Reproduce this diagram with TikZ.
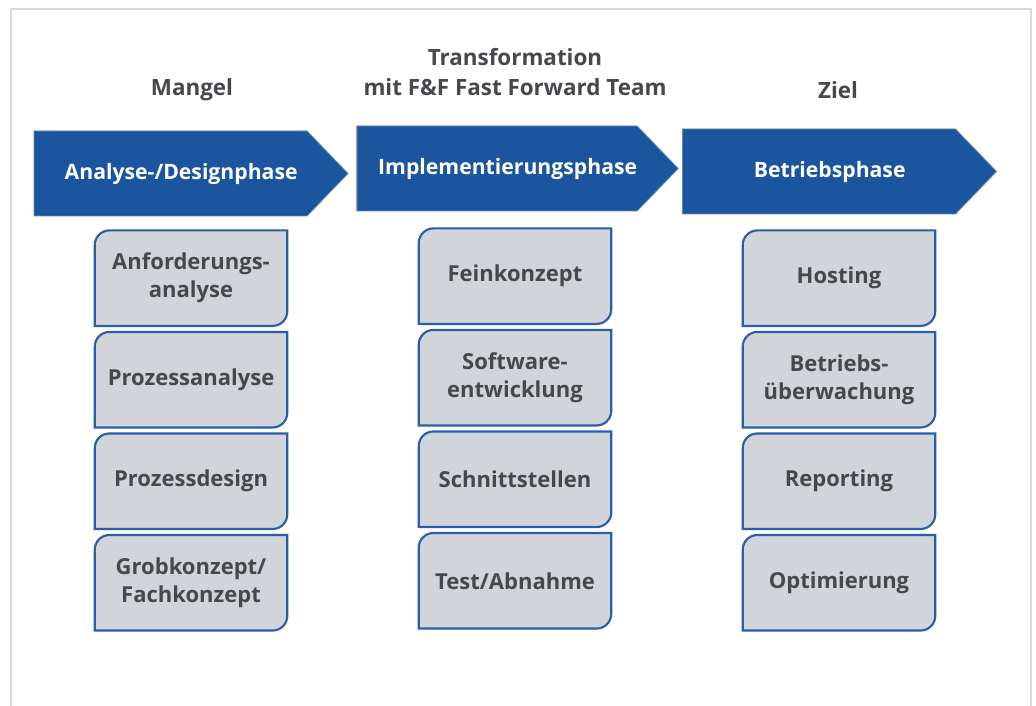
\documentclass[tikz,border=0pt]{standalone}
\usepackage{fontspec}
\setmainfont{Open Sans}
\usepackage{tikz}
\usetikzlibrary{positioning, shapes.symbols, backgrounds}
\usepackage{xcolor}
\definecolor{phaseblue}{HTML}{1B559E}
\definecolor{boxgray}{HTML}{D1D4D8}
\definecolor{boxblue}{HTML}{2A5EA8}
\definecolor{textgray}{HTML}{46484C}
\definecolor{framegray}{HTML}{D9D9D9}

\begin{document}
\begin{tikzpicture}[
        x=0.75pt, y=-0.75pt,
        node distance=4.5pt,
        phase/.style={signal, signal to=east, signal pointer angle=92, fill=phaseblue, draw=phaseblue!70!white, line width=0.6pt, minimum width=235.5pt, minimum height=63.75pt, inner sep=0pt, text=white, font=\bfseries\fontsize{15.9}{19}\selectfont, execute at begin node={\hspace*{16pt}}},
        stepbox/.style={rectangle, minimum width=144pt, minimum height=71.25pt, align=center, inner sep=0pt, text=textgray, font=\bfseries\fontsize{16.5}{21}\selectfont},
        boxline/.style={draw=boxblue, fill=boxgray, line width=1.6pt},
        title/.style={align=center, text=textgray, font=\bfseries\fontsize{16.8}{22.5}\selectfont}
    ]
    \useasboundingbox (0,0) rectangle (1036,706);
    \draw[framegray, line width=1.5pt] (11,706) -- (11,9) -- (1031,9) -- (1031,706);

    % MANGEL
    \node[title] (tit1) at (192,90) {Mangel};
    \node[phase] (ph1) at (170.5,173.5) {Analyse-/Designphase};
    \node[stepbox, anchor=north] (m1) at ([xshift=15.4pt, yshift=-10.5pt]ph1.south) {Anforderungs-\\analyse};
    \node[stepbox, below=of m1] (m2) {Prozessanalyse};
    \node[stepbox, below=of m2] (m3) {Prozessdesign};
    \node[stepbox, below=of m3] (m4) {Grobkonzept/\\Fachkonzept};

    % TRANSFORMATION
    \node[title] (tit2) at (515,72) {Transformation\\mit F\&F Fast Forward Team};
    \node[phase] (ph2) at (497,168.5) {Implementierungsphase};
    \node[stepbox, anchor=north] (t1) at ([xshift=13.5pt, yshift=-12.75pt]ph2.south) {Feinkonzept};
    \node[stepbox, below=of t1] (t2) {Software-\\entwicklung};
    \node[stepbox, below=of t2] (t3) {Schnittstellen};
    \node[stepbox, below=of t3] (t4) {Test/Abnahme};

    % ZIEL
    \node[title] (tit3) at (838,90) {Ziel};
    \node[phase] (ph3) at (819,171.5) {Betriebsphase};
    \node[stepbox, anchor=north] (z1) at ([xshift=15pt, yshift=-12pt]ph3.south) {Hosting};
    \node[stepbox, below=of z1] (z2) {Betriebs-\\überwachung};
    \node[stepbox, below=of z2] (z3) {Reporting};
    \node[stepbox, below=of z3] (z4) {Optimierung};

    % Kaesten mit zwei runden Ecken
    \begin{scope}[on background layer]
    \foreach \n in {m1,m2,m3,m4,t1,t2,t3,t4,z1,z2,z3,z4}
        \draw[boxline] ([yshift=-11pt]\n.north west) arc[start angle=180, end angle=90, radius=11pt] -- (\n.north east) -- ([yshift=11pt]\n.south east) arc[start angle=0, end angle=-90, radius=11pt] -- (\n.south west) -- cycle;
    \end{scope}
\end{tikzpicture}
\end{document}
